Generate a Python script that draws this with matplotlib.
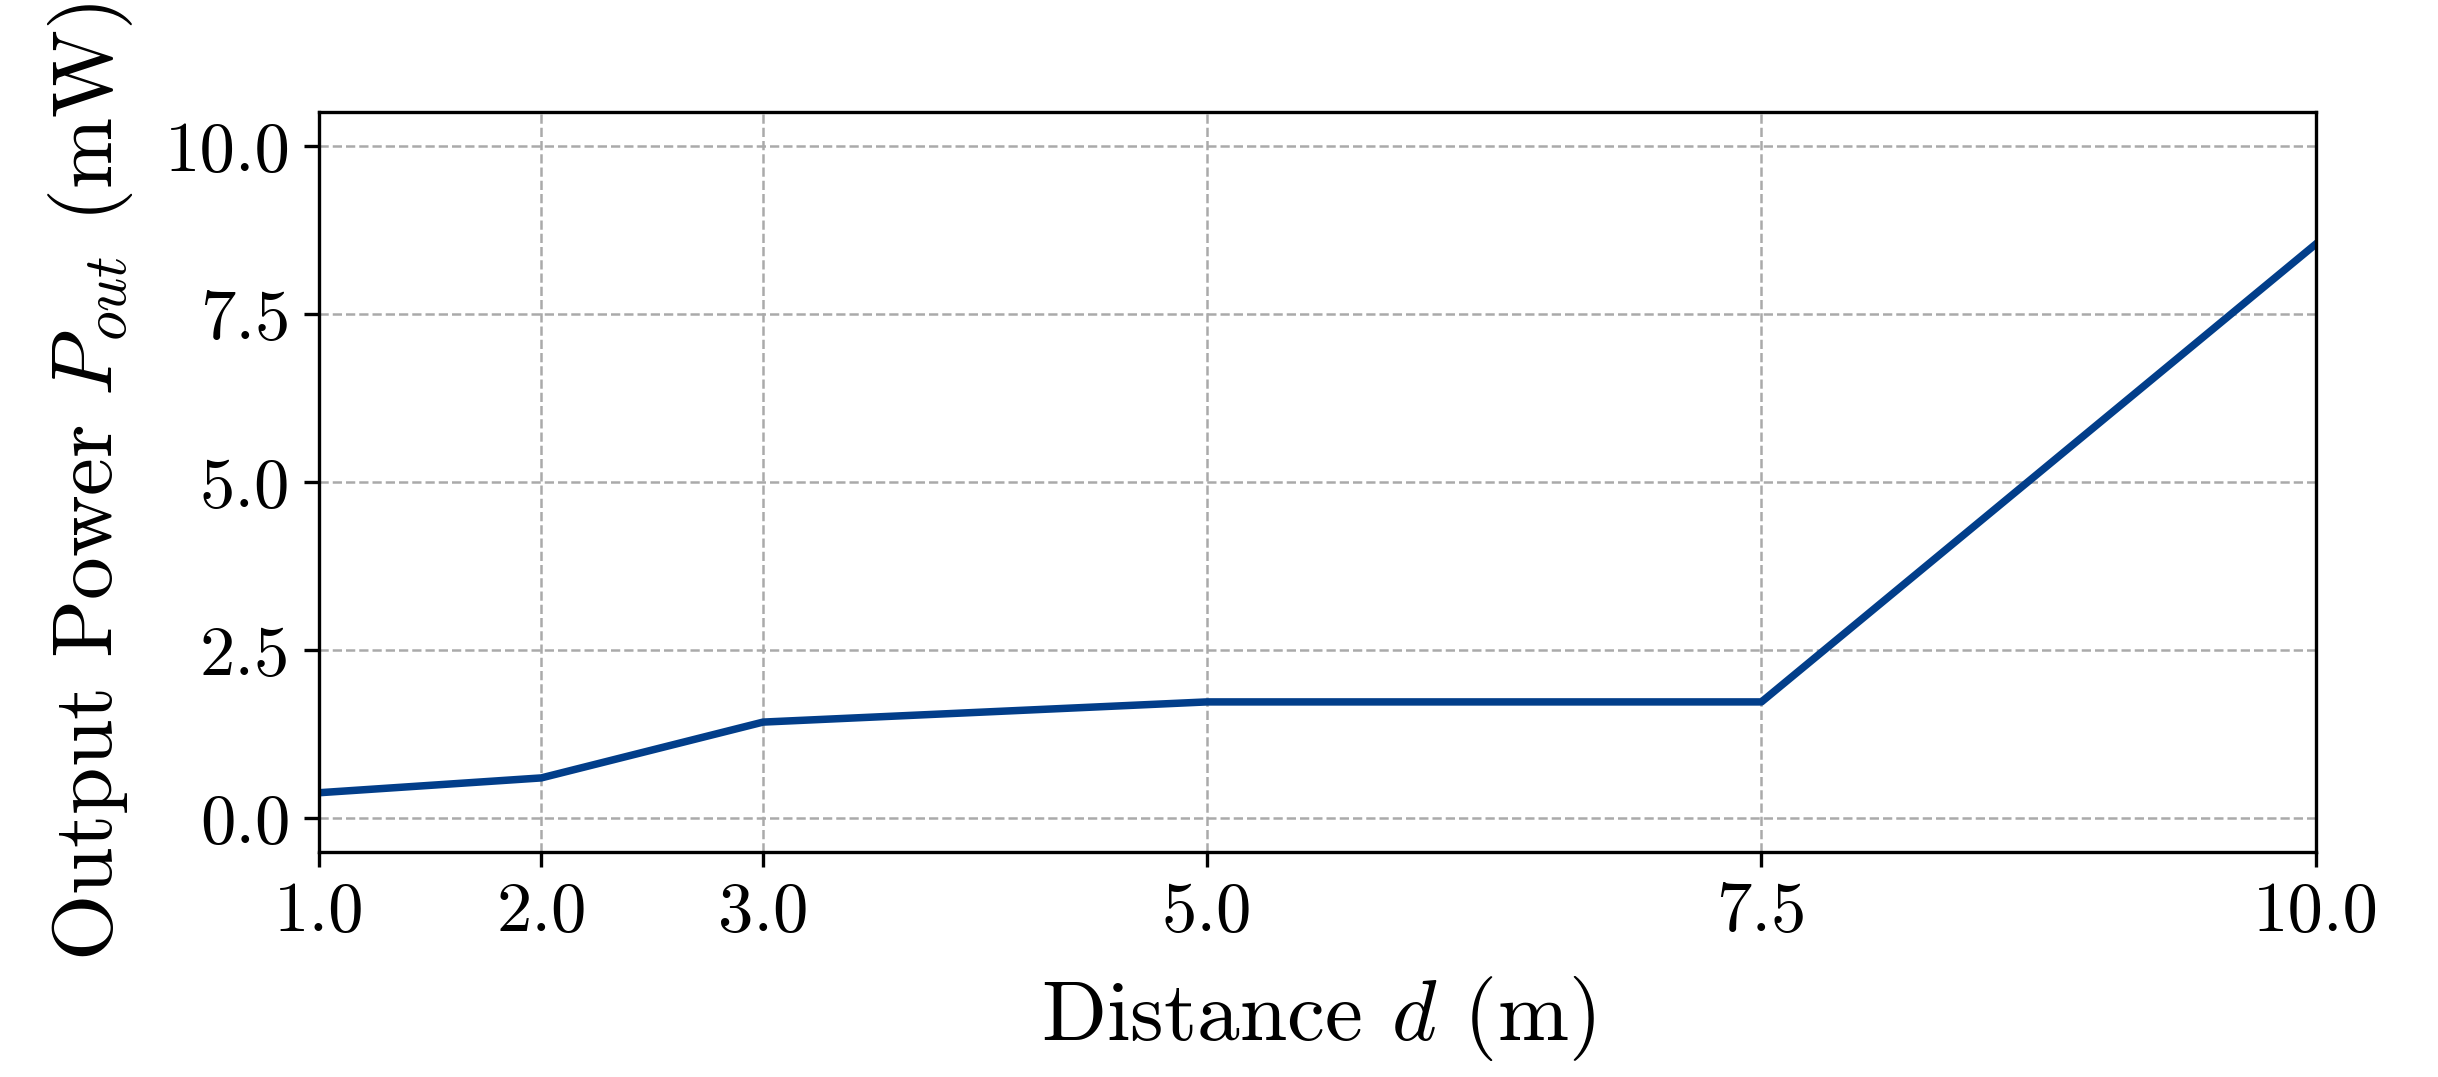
import matplotlib
matplotlib.use("Agg")
import matplotlib.pyplot as plt

distance = [1.0, 2.0, 3.0, 5.0, 7.5, 10.0]
power = [0.38, 0.60, 1.43, 1.73, 1.73, 8.54]
y_ticks = [0.0, 2.5, 5.0, 7.5, 10.0]

plt.rcParams["font.family"] = "serif"
plt.rcParams["font.serif"] = ["cmr10"]
plt.rcParams["mathtext.fontset"] = "cm"
plt.rcParams["axes.formatter.use_mathtext"] = True
plt.rcParams["axes.unicode_minus"] = False

fig = plt.figure(figsize=(2438 / 300, 1077 / 300), dpi=300)
ax = fig.add_axes([0.131, 0.209, 0.819, 0.687])
ax.plot(distance, power, color="#023e8a", linewidth=1.8)
ax.set_xlim(1.0, 10.0)
ax.set_ylim(-0.5, 10.5)
ax.set_xticks(distance)
ax.set_xticklabels([f"{d:.1f}" for d in distance])
ax.set_yticks(y_ticks)
ax.set_yticklabels([f"{v:.1f}" for v in y_ticks])
ax.tick_params(labelsize=17)
ax.grid(True, linestyle="--", color="#aaaaaa", linewidth=0.6)
ax.set_xlabel("Distance $d$ (m)", fontsize=20.5, labelpad=7)
ax.set_ylabel("Output Power $P_{out}$ (mW)", fontsize=20.5, labelpad=7)

plt.savefig("out.png", dpi=300)
